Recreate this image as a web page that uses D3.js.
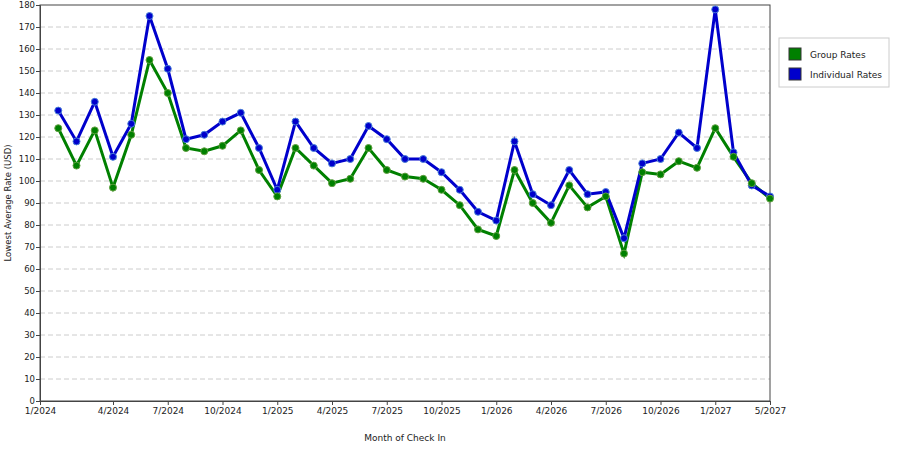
<!DOCTYPE html>
<html>
<head>
<meta charset="UTF-8">
<script src="https://d3js.org/d3.v7.min.js"></script>
<style>
  body { margin: 0; background: #fff; }
  text { font-family: "DejaVu Sans", sans-serif; font-size: 9px; fill: #222; }
</style>
</head>
<body>
<svg id="chart" width="900" height="450"></svg>
<script>
  const groupRates = [124,107,123,97,121,155,140,115,113.5,116,123,105,93,115,107,99,101,115,105,102,
                      101,96,89,78,75,105,90,81,98,88,93,67,104,103,109,106,124,111,99,92];
  const individualRates = [132,118,136,111,126,175,151,119,121,127,131,115,96,127,115,108,110,125,119,110,
                           110,104,96,86,82,118,94,89,105,94,95,74,108,110,122,115,178,113,98,93];
  const tickIndex = [-1,3,6,9,12,15,18,21,24,27,30,33,36,39];
  const tickLabels = ["1/2024","4/2024","7/2024","10/2024","1/2025","4/2025","7/2025","10/2025",
                      "1/2026","4/2026","7/2026","10/2026","1/2027","5/2027"];
  const seriesNames = ["Group Rates","Individual Rates"];
  const colors = ["#008000","#0000cc"];

  const margin = {top: 5, left: 40, right: 130, bottom: 49};
  const width = 900 - margin.left - margin.right;
  const height = 450 - margin.top - margin.bottom;
  const svg = d3.select("#chart").append("g")
    .attr("transform", "translate(" + margin.left + "," + margin.top + ")");

  const x = d3.scaleLinear().domain([-1, 39]).range([0, width]);
  const y = d3.scaleLinear().domain([0, 180]).range([height, 0]);

  // grid
  svg.append("g").selectAll("line")
    .data(d3.range(10, 180, 10))
    .enter().append("line")
    .attr("x1", 0).attr("x2", width)
    .attr("y1", d => y(d)).attr("y2", d => y(d))
    .attr("stroke", "#ccc").attr("stroke-dasharray", "5,3");

  svg.append("rect").attr("width", width).attr("height", height)
    .attr("fill", "none").attr("stroke", "#444");

  const yAxis = svg.append("g").call(d3.axisLeft(y).tickValues(d3.range(0, 181, 10)).tickSize(4));
  const xAxis = svg.append("g").attr("transform", "translate(0," + height + ")")
    .call(d3.axisBottom(x).tickValues(tickIndex).tickFormat((d, i) => tickLabels[i]).tickSize(4));
  [xAxis, yAxis].forEach(a => {
    a.select(".domain").attr("stroke", "#444");
    a.selectAll("line").attr("stroke", "#444");
    a.selectAll("text").style("font-family", "DejaVu Sans").style("font-size", "9px").attr("fill", "#222");
  });
  yAxis.selectAll("text").attr("x", -5).style("font-size", "8.5px");

  svg.append("text").attr("x", width / 2).attr("y", height + 40)
    .attr("text-anchor", "middle").text("Month of Check In");
  svg.append("text").attr("transform", "translate(-29," + height / 2 + ") rotate(-90)")
    .attr("text-anchor", "middle").style("font-size", "8.5px").text("Lowest Average Rate (USD)");

  const line = d3.line().x((d, i) => x(i)).y(d => y(d));
  [groupRates, individualRates].forEach((s, k) => {
    svg.append("path").datum(s).attr("d", line)
      .attr("fill", "none").attr("stroke", colors[k]).attr("stroke-width", 3);
  });
  [individualRates, groupRates].forEach((s) => {
    const k = s === groupRates ? 0 : 1;
    svg.append("g").selectAll("circle").data(s).enter().append("circle")
      .attr("cx", (d, i) => x(i)).attr("cy", d => y(d)).attr("r", 3.5)
      .attr("fill", colors[k]).attr("stroke", k ? "#4a7fd8" : "#5f9f3f").attr("stroke-width", 1);
  });

  // legend
  const legend = d3.select("#chart").append("g").attr("transform", "translate(779,38)");
  legend.append("rect").attr("width", 110).attr("height", 49)
    .attr("fill", "#fff").attr("stroke", "#ccc");
  seriesNames.forEach((n, i) => {
    const g = legend.append("g").attr("transform", "translate(10," + (10 + i * 20) + ")");
    g.append("rect").attr("width", 12).attr("height", 12).attr("fill", colors[i]).attr("stroke", "#333");
    g.append("text").attr("x", 21).attr("y", 10).text(n);
  });
</script>
</body>
</html>
